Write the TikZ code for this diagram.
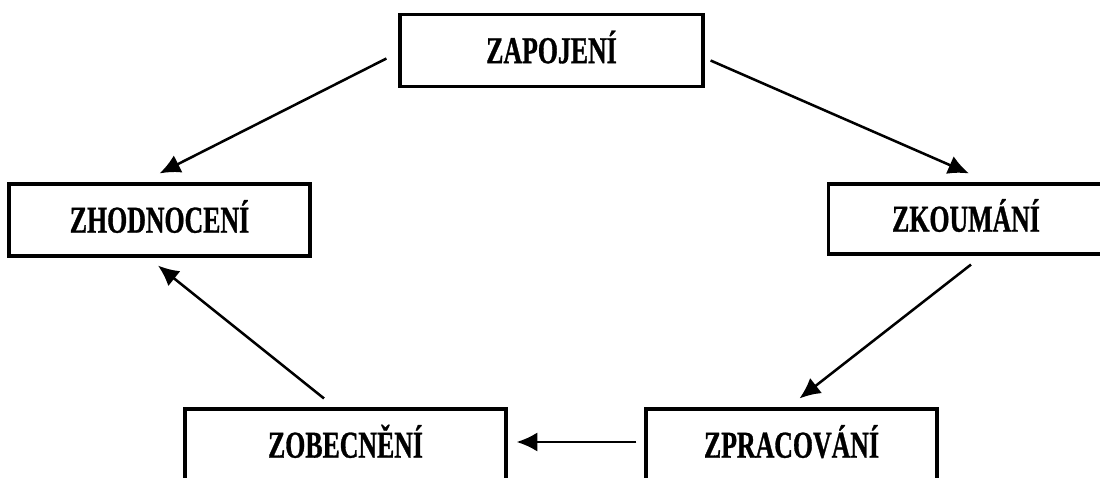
\documentclass[tikz,border=0pt]{standalone}
\usepackage{fontspec}
\newfontfamily\stagefont[FakeStretch=0.68, BoldFeatures={FakeBold=0.8}]{Liberation Serif}
\usetikzlibrary{arrows.meta,calc}

\begin{document}
\begin{tikzpicture}[x={0.025cm}, y={-0.025cm},
    stage/.style={draw, line width=2.2pt, inner sep=0pt, text height=18pt, text depth=0pt,
        font=\stagefont\bfseries\fontsize{27}{32}\selectfont},
    flow/.style={-{Latex[length=5.2mm,width=4.8mm]}, line width=1.8pt}]
    \useasboundingbox (0,0) rectangle (1100,478);
    % the five stages
    \node[stage, minimum width=7.575cm, minimum height=1.78cm] (zapojeni) at (551.5,50.5) {ZAPOJENÍ};
    \node[stage, minimum width=7.525cm, minimum height=1.8cm] (zhodnoceni) at (159.5,220) {ZHODNOCENÍ};
    \node[stage, minimum width=6.875cm, minimum height=1.75cm] (zkoumani) at (966,219) {ZKOUMÁNÍ};
    \node[stage, minimum width=8.025cm, minimum height=1.8cm] (zobecneni) at (345.5,445) {ZOBECNĚNÍ};
    \node[stage, minimum width=7.275cm, minimum height=1.8cm] (zpracovani) at (791.5,445) {ZPRACOVÁNÍ};
    % the cycle
    \draw[flow] ($(zapojeni.west)+(-12,8)$) -- ($(zhodnoceni.north)+(0,-9)$);
    \draw[flow] ($(zapojeni.east)+(6,10)$) -- ($(zkoumani.north)+(3,-9)$);
    \draw[flow] ($(zkoumani.south)+(5,9)$) -- ($(zpracovani.north)+(8,-9)$);
    \draw[flow] ($(zpracovani.west)+(-8,-3)$) -- ($(zobecneni.east)+(9,-3)$);
    \draw[flow] ($(zobecneni.north)+(-21.5,-9)$) -- ($(zhodnoceni.south)+(-1.5,8)$);
\end{tikzpicture}
\end{document}
